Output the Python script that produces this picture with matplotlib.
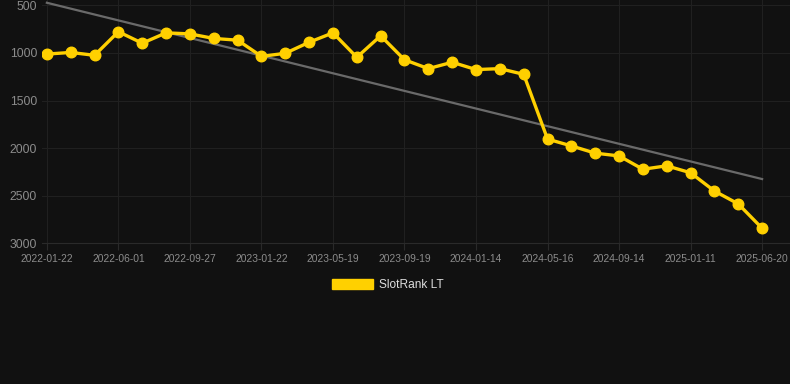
"""
SlotRank LT history chart (dark theme), rank axis inverted.
"""
import matplotlib
matplotlib.use("Agg")
import matplotlib.pyplot as plt
from matplotlib.patches import Patch
import numpy as np

plt.rcParams["font.family"] = ["Liberation Sans", "DejaVu Sans"]

# rank values, one per sample (evenly spaced on the x axis)
ranks = [1012, 995, 1025, 777, 898, 789, 800, 848, 866, 1036, 1004, 888, 789,
         1046, 820, 1072, 1165, 1098, 1175, 1165, 1225, 1905, 1977, 2053,
         2082, 2222, 2186, 2259, 2451, 2586, 2842]
tick_idx = [0, 3, 6, 9, 12, 15, 18, 21, 24, 27, 30]
tick_labels = ["2022-01-22", "2022-06-01", "2022-09-27", "2023-01-22",
               "2023-05-19", "2023-09-19", "2024-01-14", "2024-05-16",
               "2024-09-14", "2025-01-11", "2025-06-20"]
trend_ends = [473, 2325]
y_ticks = [500, 1000, 1500, 2000, 2500, 3000]

BG = "#111111"
GOLD = "#FFD000"

fig = plt.figure(figsize=(7.9, 3.84), dpi=100, facecolor=BG)
ax = fig.add_axes([0.053, 0.3664, 0.947, 0.6336], facecolor=BG)

x = np.arange(len(ranks))
ax.plot([x[0], x[-1]], trend_ends, color="#6a6a6a", lw=1.6, zorder=2)
ax.plot(x, ranks, color=GOLD, lw=2.4, marker="o", ms=7.6, zorder=3)

ax.set_xlim(-0.21, 31.17)
ax.set_ylim(3000, 444)
ax.set_yticks(y_ticks)
ax.set_xticks(tick_idx)
ax.set_xticklabels(tick_labels)

ax.grid(True, color="#202020", lw=0.8)
ax.set_axisbelow(True)
for side in ["top", "right", "left"]:
    ax.spines[side].set_visible(False)
ax.spines["bottom"].set_color("#2a2a2a")
ax.tick_params(axis="y", length=0, pad=3.5, labelsize=8.8, labelcolor="#8c8c8c")
ax.tick_params(axis="x", length=5, color="#2a2a2a", pad=3, labelsize=7.4,
               labelcolor="#8c8c8c")

fig.legend(handles=[Patch(facecolor=GOLD, edgecolor=GOLD)], labels=["SlotRank LT"],
           loc="center", bbox_to_anchor=(0.491, 0.258), frameon=False,
           fontsize=8.6, labelcolor="#dddddd", handlelength=3.4, handleheight=0.95,
           handletextpad=0.5)

fig.savefig("out.png", dpi=100, facecolor=BG)
